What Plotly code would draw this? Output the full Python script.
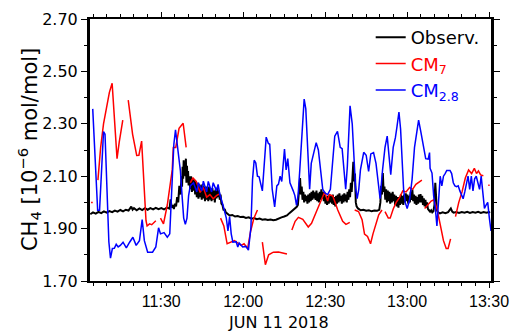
import plotly.graph_objects as go
import pandas as pd

BASE = pd.Timestamp("2018-06-11 11:00:00")

# ---------------- data (minutes after 11:00, CH4 in 1e-6 mol/mol) ----------------
obs_min = [4, 5, 6, 7, 8, 9, 10, 11, 12, 13, 14, 15, 16, 17, 18, 19, 19.5, 20, 21, 22, 23, 24, 25, 26, 27, 28, 29, 30, 31, 32, 33,
           33.4, 33.8, 34.2, 34.6, 35.0, 35.4, 35.8, 36.2, 36.6, 37.0, 37.4, 37.6, 37.8, 38.0, 38.2, 38.4, 38.6, 38.8, 39.0, 39.2, 39.4, 39.6, 39.8,
           40.0, 40.3, 40.6, 40.9, 41.2, 41.5, 41.8, 42.1, 42.4, 42.7, 43.0, 43.3, 43.6, 43.9, 44.2, 44.5, 44.8, 45.1, 45.4, 45.7,
           46.0, 46.3, 46.6, 46.9, 47.2, 47.5, 47.8, 48.1, 48.4, 48.7, 49.0, 49.3, 49.6, 49.9, 50.2, 50.5, 50.8, 51.1, 51.4, 51.7,
           52.0, 52.4, 52.8, 53.2, 53.6,
           54, 55, 56, 57, 58, 59, 60, 61, 62, 63, 64, 65, 66, 67, 68, 69, 70, 71, 72, 73, 74, 75, 76, 77, 78, 79, 79.6,
           80.0, 80.4, 80.8, 81.1, 81.4, 81.7, 82.0, 82.3, 82.6, 82.9, 83.2, 83.5, 83.8, 84.1, 84.4, 84.7, 85.0, 85.3, 85.6, 85.9,
           86.2, 86.5, 86.8, 87.1, 87.4, 87.7, 88.0, 88.3, 88.6, 88.9, 89.2, 89.5, 89.8, 90.1, 90.4, 90.7, 91.0, 91.3, 91.6, 91.9,
           92.2, 92.5, 92.8, 93.1, 93.4, 93.7, 94.0, 94.3, 94.6, 94.9, 95.2, 95.5, 95.8, 96.1, 96.4, 96.7, 97.0, 97.3, 97.6, 97.9,
           98.2, 98.5, 98.8, 99.1, 99.4, 99.7, 100.0, 100.3, 100.6, 100.9, 101.2, 101.5,
           102, 103, 104, 105, 106, 107, 108, 109, 109.8,
           110.2, 110.5, 110.8, 111.1, 111.4, 111.7, 112.0, 112.3, 112.6, 112.9, 113.2, 113.5, 113.8, 114.1, 114.4, 114.7, 115.0,
           115.3, 115.6, 115.9, 116.2, 116.5, 116.8, 117.1, 117.4, 117.7, 118.0, 118.3, 118.6, 118.9, 119.2, 119.5, 119.8, 120.1,
           120.4, 120.7, 121.0, 121.3, 121.6, 121.9, 122.2, 122.5, 122.8, 123.1, 123.4, 123.7, 124.0, 124.3, 124.6, 124.9, 125.2,
           125.5, 125.8, 126.1, 126.4, 126.7, 127.0, 127.3, 127.6, 128.0, 128.4, 128.8, 129.2, 129.6, 130.0, 130.3, 130.6, 130.9, 131.3,
           132, 133, 134, 135, 136, 136.5, 137, 138, 139, 140, 141, 142, 143, 144, 145, 146, 147, 148, 149, 150, 150.3]
obs_val = [1.955, 1.962, 1.957, 1.964, 1.959, 1.966, 1.961, 1.967, 1.963, 1.969, 1.965, 1.971, 1.966, 1.972, 1.969, 1.984, 1.972, 1.978,
           1.970, 1.977, 1.971, 1.978, 1.972, 1.978, 1.973, 1.979, 1.974, 1.978, 1.973, 1.980, 1.976,
           2.012, 1.980, 1.990, 1.975, 1.995, 1.985, 2.020, 2.000, 2.063, 2.030, 2.100, 2.060, 2.136, 2.090, 2.161, 2.110, 2.150, 2.100,
           2.167, 2.075, 2.140, 2.080, 2.120,
           2.065, 2.100, 2.050, 2.100, 2.040, 2.090, 2.045, 2.085, 2.030, 2.080, 2.020, 2.075, 2.014, 2.070, 2.020, 2.065, 2.010, 2.070,
           2.015, 2.060, 2.005, 2.060, 2.010, 2.055, 2.005, 2.060, 2.010, 2.050, 2.005, 2.055, 2.010, 2.045, 2.000, 2.050, 2.015, 2.057,
           2.020, 2.045, 2.010, 2.030,
           1.995, 1.990, 1.970, 1.975, 1.962,
           1.958, 1.950, 1.952, 1.946, 1.948, 1.944, 1.945, 1.941, 1.943, 1.938, 1.940, 1.936, 1.938, 1.934, 1.936, 1.933, 1.935, 1.932,
           1.934, 1.940, 1.943, 1.946, 1.950, 1.960, 1.968, 1.975, 1.983,
           1.990, 2.040, 2.093, 2.030, 2.060, 2.010, 2.040, 2.000, 2.030, 2.005, 2.025, 1.995, 2.030, 2.000, 2.035, 2.005, 2.040, 2.010,
           2.045, 2.015, 2.038, 2.010, 2.045, 2.005, 2.035, 2.000, 2.040, 2.010, 2.050, 2.015, 2.040, 2.005, 2.030, 1.995, 2.020, 1.990,
           2.025, 1.995, 2.030, 2.000, 2.025, 1.995, 2.030, 1.990, 2.020, 1.985, 2.025, 1.995, 2.030, 2.000, 2.035, 2.005, 2.025, 1.995,
           2.030, 2.000, 2.035, 2.005, 2.030, 2.000, 2.040, 2.010, 2.050, 2.020, 2.075, 2.040, 2.120, 2.155, 2.080, 2.110, 2.000, 1.985,
           1.977, 1.970, 1.972, 1.968, 1.970, 1.966, 1.969, 1.968, 1.972,
           2.000, 2.063, 2.030, 2.112, 2.040, 2.060, 2.010, 2.050, 2.000, 2.045, 2.005, 2.040, 1.995, 2.035, 2.000, 2.040, 2.005,
           2.030, 1.990, 2.025, 1.985, 2.020, 1.980, 2.020, 1.990, 2.030, 1.995, 2.025, 1.990, 2.030, 2.000, 2.035, 2.005, 2.030,
           1.995, 2.025, 2.000, 2.040, 2.010, 2.050, 2.005, 2.030, 1.995, 2.025, 1.990, 2.020, 1.995, 2.030, 2.000, 2.032, 2.000,
           2.025, 1.990, 2.015, 1.985, 2.010, 1.980, 2.000, 1.975, 1.970, 1.965, 1.970, 1.962, 1.966, 1.990, 2.075, 2.000, 1.970, 1.962,
           1.958, 1.962, 1.959, 1.963, 1.977, 1.965, 1.961, 1.963, 1.960, 1.963, 1.961, 1.964, 1.960, 1.963, 1.961, 1.964, 1.960,
           1.963, 1.961, 1.963, 1.960]

cm7_min = [4.3, 4.9, 5.8,
           6.8, 7.8, 8.85, 10.2, 11.0, 12.0, 12.8, 13.8, 14.6, 15.9, 16.8,
           17.9, 18.6, 19.5, 21.0, 21.8, 22.8, 23.6, 24.4, 24.8, 25.7, 26.5, 28.0, 28.8,
           29.7, 30.8, 32.2, 34.0, 34.4, 35.3, 36.5, 38.0, 39.1, 39.9,
           40.6, 41.6, 42.8, 44.2, 45.4, 46.6, 47.8, 49.0, 50.2, 51.1, 51.4,
           51.7, 52.9, 54.1, 55.6, 56.8, 58.0, 59.2, 60.3, 61.6, 62.7, 63.9, 65.2, 66.1,
           67.0, 68.1, 69.3, 71.0, 72.9, 74.6, 76.0, 76.9,
           77.8, 79.0, 80.2, 81.8, 83.8, 85.0, 86.8, 88.6, 89.8, 90.9, 91.5, 92.8, 94.6, 96.4, 97.6, 99.0, 99.9,
           100.8, 102.2, 103.5, 104.4, 105.5, 106.6, 107.5, 108.4, 109.6, 110.8, 111.3,
           111.9, 113.1, 113.8, 114.9, 116.0, 117.3, 118.4, 119.6, 120.9, 122.0, 123.2, 124.4, 125.4, 125.9,
           126.4, 127.5, 128.8, 129.8, 130.9, 132.1, 133.3, 134.3, 135.0, 135.9, 136.8,
           137.7, 138.9, 140.1, 141.3, 142.5, 143.6, 144.6, 145.4, 146.1, 146.9, 147.9, 148.8,
           149.7, 150.2]
cm7_val = [2.000, 2.000, None,
           2.085, 2.210, 2.300, 2.369, 2.420, 2.455, 2.330, 2.167, 2.230, 2.314, None,
           2.390, 2.330, 2.260, 2.179, 2.180, 2.234, 2.100, 1.930, 1.910, 1.918, 1.915, 1.930, None,
           1.940, 1.918, 1.990, 2.124, 2.210, 2.210, 2.283, 2.302, 2.210, None,
           2.075, 2.093, 2.080, 2.038, 2.057, 2.020, 2.030, 2.014, 2.026, 2.032, None,
           1.940, 1.910, 1.842, 1.848, 1.854, 1.845, 1.836, 1.842, 1.824, 1.890, 1.940, 1.971, None,
           1.848, 1.762, 1.800, 1.810, 1.811, 1.807, 1.803, None,
           1.895, 1.928, 1.943, 1.935, 1.906, 1.920, 1.965, 2.013, 2.040, 2.005, 2.030, 2.024, 1.971, 1.928, 1.916, 1.924, None,
           1.971, 1.965, 1.934, 1.879, 1.870, 1.842, 1.880, 1.916, 1.953, 1.971, None,
           1.965, 1.940, 1.940, 1.975, 2.000, 2.020, 2.044, 2.040, 2.057, 2.050, 2.069, 2.078, 2.085, None,
           1.977, 1.990, 2.005, 2.010, 1.977, 1.916, 1.854, 1.824, 1.824, 1.861, None,
           1.946, 2.000, 2.040, 2.093, 2.124, 2.110, 2.130, 2.110, 2.120, 2.105, 2.102, None,
           2.065, 2.065]

cm28_min = [4.9, 5.8, 6.7, 7.4, 8.3, 8.85, 9.4, 10.1, 10.8, 11.4, 12.1, 12.8, 13.5, 14.2, 15.0, 16.0, 17.2, 18.4, 19.6, 20.8,
            22.0, 23.0, 23.8, 25.0, 26.8, 28.0, 29.0, 29.7, 31.0, 32.2, 33.1, 34.0, 34.6, 35.2, 35.8, 36.4, 37.0, 37.6, 38.2, 38.8,
            39.4, 40.0, 40.6, 41.8, 43.0, 43.6, 44.8, 45.4, 46.6, 47.2, 48.4, 49.0, 50.2, 50.8, 51.4, 52.6, 53.8, 54.4, 55.0, 55.6,
            56.2, 57.4, 58.0, 58.5, 59.8, 61.0, 61.9, 62.8, 63.4, 64.0, 64.6, 65.2, 65.8, 67.0, 67.6, 68.4, 69.2, 69.7, 70.6, 71.5,
            72.3, 72.9, 73.5, 74.1, 75.1, 75.7, 76.3, 77.1, 78.3, 78.9, 79.5, 80.1, 80.7, 81.5, 82.3, 82.9, 83.5, 84.3, 84.9, 85.8,
            86.7, 87.5, 88.2, 89.1, 90.0, 90.9, 91.9, 92.7, 93.5, 94.5, 95.5, 96.2, 96.9, 97.5, 98.1, 98.7, 99.1, 99.9, 100.5, 101.1,
            101.7, 102.3, 102.9, 104.1, 105.0, 105.9, 106.7, 107.7, 108.6, 109.5, 110.1, 111.0, 111.9, 112.7, 113.4, 114.0, 114.9,
            115.7, 116.3, 117.0, 117.6, 118.1, 118.7, 119.3, 120.0, 120.9, 121.8, 122.7, 123.5, 124.2, 125.0, 125.9, 126.8, 127.7,
            128.2, 128.4, 129.1, 129.7, 130.3, 130.9, 131.5, 132.1, 132.7, 133.3, 133.9, 134.5, 135.7, 136.3, 136.9, 137.5, 138.1,
            138.7, 139.3, 139.9, 140.5, 141.1, 141.7, 142.3, 142.9, 143.5, 144.1, 144.7, 145.3, 145.9, 146.5, 147.1, 147.7, 148.3,
            148.9, 149.5, 150.1, 150.7]
cm28_val = [2.357, 2.150, 1.970, 1.970, 2.150, 2.270, 2.260, 2.050, 1.850, 1.787, 1.824, 1.825, 1.840, 1.830, 1.836, 1.848, 1.826,
            1.848, 1.867, 1.836, 1.854, 1.934, 1.854, 1.810, 1.810, 1.830, 1.903, 1.880, 1.885, 1.867, 1.880, 2.087, 2.222, 2.277,
            2.220, 2.161, 2.120, 2.026, 1.940, 1.916, 1.940, 2.026, 2.063, 2.075, 2.040, 2.075, 2.044, 2.081, 2.040, 2.080, 2.040,
            2.075, 2.044, 2.069, 2.032, 1.989, 1.940, 1.891, 1.946, 1.880, 1.848, 1.850, 1.830, 1.845, 1.830, 1.832, 1.818, 1.903,
            2.087, 2.161, 2.150, 2.100, 2.098, 2.044, 2.150, 2.249, 2.225, 2.222, 2.050, 1.983, 2.063, 2.070, 2.100, 2.080, 2.204,
            2.124, 2.167, 2.075, 2.044, 2.026, 1.989, 2.030, 2.124, 2.271, 2.394, 2.357, 2.210, 2.050, 2.149, 2.185, 2.228, 2.200,
            2.124, 2.050, 2.035, 2.030, 2.050, 2.161, 2.253, 2.271, 2.210, 2.205, 2.136, 2.050, 2.136, 2.308, 2.369, 2.300, 2.185,
            2.060, 2.014, 2.050, 2.124, 2.191, 2.180, 2.118, 2.185, 2.190, 2.149, 2.057, 2.014, 2.124, 2.210, 2.253, 2.167, 2.106,
            2.210, 2.247, 2.290, 2.345, 2.280, 2.173, 2.050, 2.000, 1.977, 2.010, 2.087, 2.210, 2.271, 2.314, 2.270, 2.216, 2.167,
            2.165, 2.190, 2.130, 2.112, 2.026, 1.980, 1.910, 1.990, 2.100, 2.063, 2.100, 2.110, 2.122, 2.122, 2.110, 2.075, 2.063,
            2.060, 2.063, 2.044, 2.030, 2.014, 2.040, 2.075, 2.100, 2.050, 2.100, 2.044, 2.090, 2.100, 2.075, 2.050, 2.100, 2.026,
            1.977, 1.990, 2.000, 1.940, 1.891]

y_ticks = [1.70, 1.90, 2.10, 2.30, 2.50, 2.70]
y_ticktext = ["1.70", "1.90", "2.10", "2.30", "2.50", "2.70"]


def to_time(mins):
    return [BASE + pd.Timedelta(minutes=m) for m in mins]


fig = go.Figure()
fig.add_trace(go.Scatter(x=to_time(obs_min), y=obs_val, mode="lines", name="Observ.",
                         line=dict(color="black", width=2)))
fig.add_trace(go.Scatter(x=to_time(cm7_min), y=cm7_val, mode="lines", connectgaps=False,
                         name="<span style='color:red'>CM<sub>7</sub></span>",
                         line=dict(color="#ff0000", width=1.5)))
fig.add_trace(go.Scatter(x=to_time(cm28_min), y=cm28_val, mode="lines",
                         name="<span style='color:blue'>CM<sub>2.8</sub></span>",
                         line=dict(color="#0000ff", width=1.5)))

fig.update_layout(
    width=519, height=336,
    margin=dict(l=90, r=21, t=10, b=55),
    paper_bgcolor="white", plot_bgcolor="white",
    font=dict(family="DejaVu Sans", color="black"),
    legend=dict(x=0.70, y=1.0, xanchor="left", yanchor="top", bgcolor="rgba(0,0,0,0)",
                font=dict(family="DejaVu Sans", size=18, color="black"), itemwidth=30,
                tracegroupgap=0),
    xaxis=dict(type="date",
               range=[BASE + pd.Timedelta(minutes=3.9), BASE + pd.Timedelta(minutes=150.7)],
               tick0="2018-06-11 11:30:00", dtick=30 * 60 * 1000, tickformat="%H:%M",
               ticks="outside", ticklen=5, tickwidth=1, tickcolor="black",
               showline=True, linecolor="black", linewidth=2, mirror="ticks",
               showgrid=False, zeroline=False,
               tickfont=dict(family="Liberation Sans", size=16, color="black"),
               minor=dict(tick0="2018-06-11 11:30:00", dtick=5 * 60 * 1000, ticks="outside",
                          ticklen=3, tickwidth=1, tickcolor="black", showgrid=False)),
    yaxis=dict(range=[1.70, 2.70], tickmode="array", tickvals=y_ticks, ticktext=y_ticktext,
               ticks="outside", ticklen=6, tickwidth=1, tickcolor="black",
               showline=True, linecolor="black", linewidth=3, mirror="ticks",
               showgrid=False, zeroline=False,
               tickfont=dict(family="DejaVu Sans", size=16, color="black"),
               minor=dict(tickvals=[1.80, 2.00, 2.20, 2.40, 2.60], ticks="outside",
                          ticklen=3, tickwidth=1, tickcolor="black", showgrid=False)),
    annotations=[
        dict(text="CH<sub>4</sub> [10<sup>−6</sup> mol/mol]", xref="paper", yref="paper",
             x=-0.152, y=0.5, xanchor="center", yanchor="middle", textangle=-90,
             showarrow=False, font=dict(family="DejaVu Sans", size=21, color="black")),
        dict(text="JUN 11 2018", xref="paper", yref="paper", x=0.4706, y=-0.16,
             xanchor="center", yanchor="middle", showarrow=False,
             font=dict(family="DejaVu Sans", size=16, color="black")),
    ],
)

fig.write_html("out.html")
